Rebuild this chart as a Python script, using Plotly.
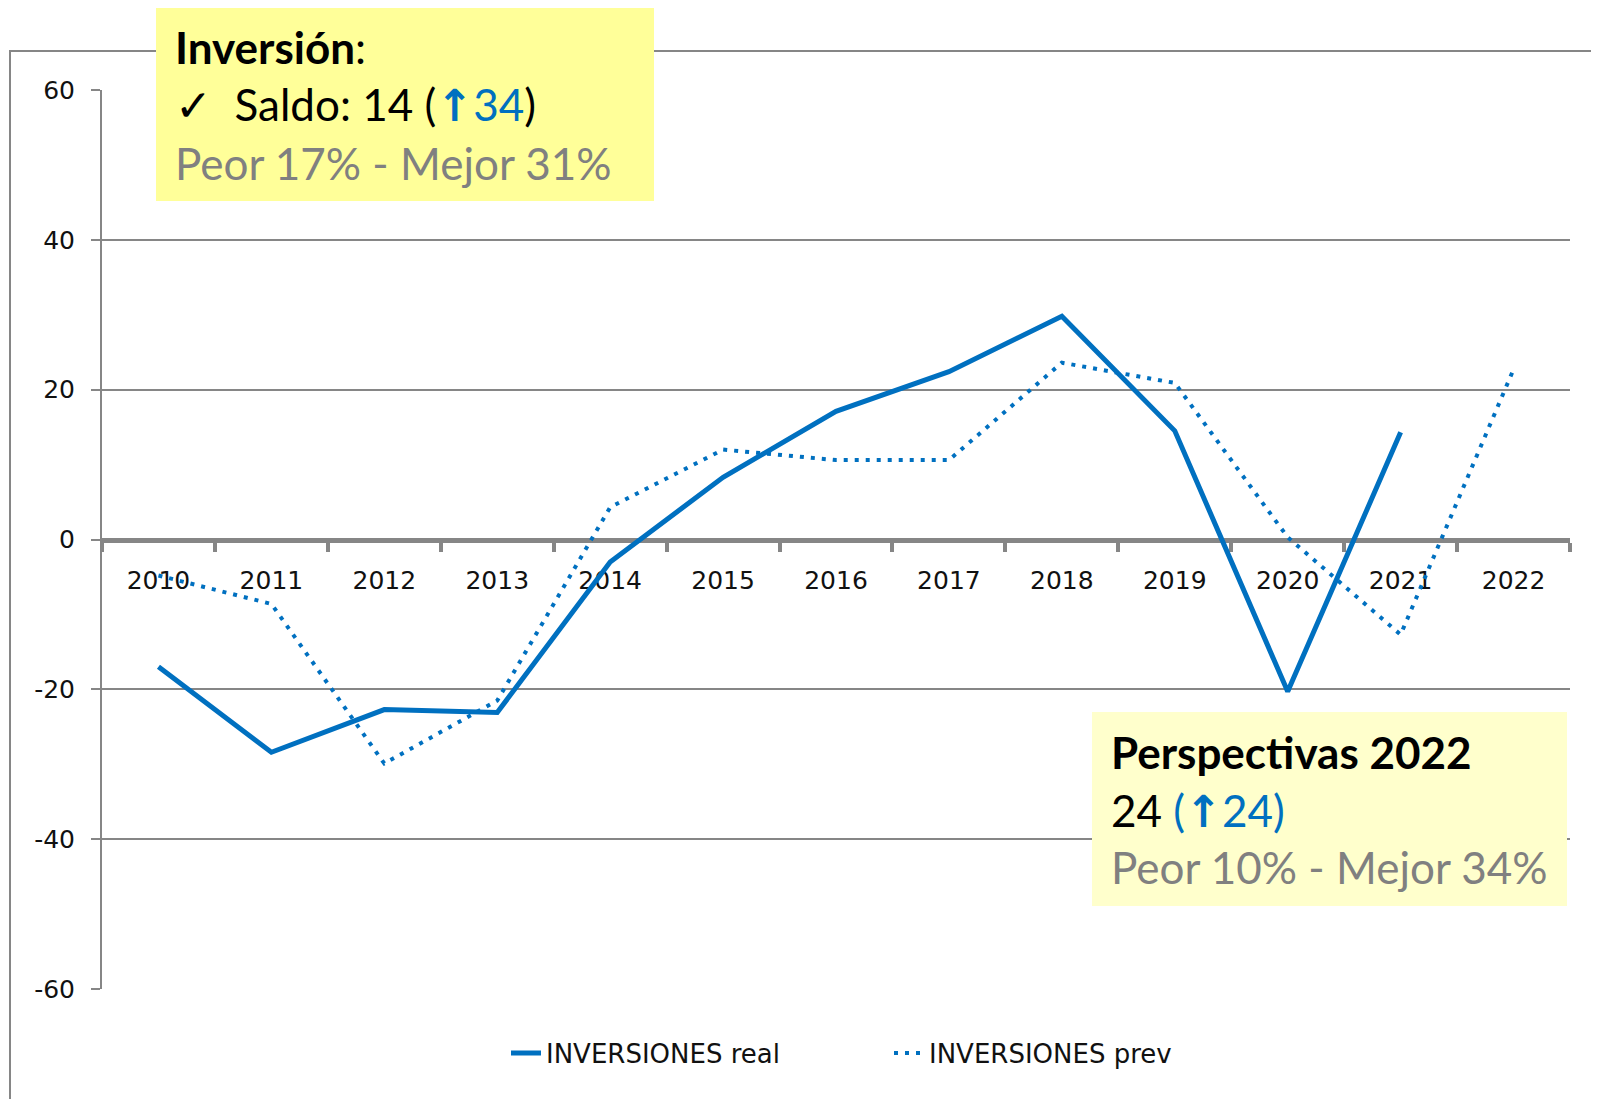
import plotly.graph_objects as go

years = ["2010", "2011", "2012", "2013", "2014", "2015", "2016",
         "2017", "2018", "2019", "2020", "2021", "2022"]
real_values = [-17, -28.4, -22.7, -23.1, -3.0, 8.3, 17.1, 22.4, 29.8, 14.5, -20.3, 14.3, None]
prev_values = [-4.8, -8.6, -29.9, -21.5, 4.3, 12.0, 10.6, 10.6, 23.6, 20.9, 0.3, -12.7, 22.7]
y_ticks = [-60, -40, -20, 0, 20, 40, 60]
y_tick_labels = ["-60", "-40", "-20", "0", "20", "40", "60"]

BLUE = "#0070C0"
GRAY = "#868686"
OFF = 8  # page body margin
W, H = 1599 - OFF, 1099 - OFF
PL, PR, PT, PB = 102, 1570, 90, 989  # plot area in page pixels
ML, MT = PL - OFF, PT - OFF
MR, MB = W - (PR - OFF), H - (PB - OFF)
PW, PH = PR - PL, PB - PT


def px(x):
    return (x - PL) / PW


def py(y):
    return (PB - y) / PH


fig = go.Figure()
fig.add_trace(go.Scatter(x=years, y=real_values, mode="lines", name="INVERSIONES real",
                         line=dict(color=BLUE, width=5)))
fig.add_trace(go.Scatter(x=years, y=prev_values, mode="lines", name="INVERSIONES prev",
                         line=dict(color=BLUE, width=4, dash="4px,7px")))

tickfont = dict(family="DejaVu Sans", size=25, color="#111111")

fig.update_layout(
    width=W, height=H,
    margin=dict(l=ML, r=MR, t=MT, b=MB),
    paper_bgcolor="white", plot_bgcolor="white",
    showlegend=True,
    legend=dict(orientation="h", x=px(506), xanchor="left", y=py(1053), yanchor="middle",
                font=dict(family="DejaVu Sans", size=26, color="#111111"),
                entrywidth=338, entrywidthmode="pixels", traceorder="normal"),
    xaxis=dict(type="category", anchor="free", position=0.5, range=[-0.5, 12.5],
               showline=True, linecolor=GRAY, linewidth=5,
               ticks="outside", tickson="boundaries", ticklen=9, tickwidth=4, tickcolor=GRAY,
               showgrid=False, tickfont=tickfont, ticklabelstandoff=16,
               layer="below traces"),
    yaxis=dict(range=[-60, 60], tickvals=y_ticks, ticktext=y_tick_labels,
               showline=True, linecolor=GRAY, linewidth=2,
               ticks="outside", ticklen=9, tickwidth=2, tickcolor=GRAY,
               showgrid=True, gridcolor=GRAY, gridwidth=2, zeroline=False,
               tickfont=tickfont, ticklabelstandoff=11, domain=[0, 1]),
)

shapes = [
    dict(type="rect", xref="paper", yref="paper", x0=px(10), x1=px(1640), y0=py(1140), y1=py(51),
         line=dict(color=GRAY, width=2), fillcolor="rgba(0,0,0,0)", layer="below"),
    dict(type="rect", xref="paper", yref="paper", x0=px(156), x1=px(654), y0=py(201), y1=py(8),
         line=dict(width=0), fillcolor="#FFFF99", layer="above"),
    dict(type="rect", xref="paper", yref="paper", x0=px(1092), x1=px(1567), y0=py(906), y1=py(712),
         line=dict(width=0), fillcolor="#FFFFCC", layer="above"),
]
fig.update_layout(shapes=shapes)

FONT = "Lato"
FS = 44
ARROW = "<span style='font-family:DejaVu Sans;font-weight:bold'>↑</span>"
ann = [
    (173, 47, "<b>Inversión</b>:"),
    (173, 105, "✓  Saldo: 14 (<span style='color:%s'>%s34</span>)" % (BLUE, ARROW)),
    (173, 163, "<span style='color:#808080'>Peor 17% - Mejor 31%</span>"),
    (1109, 752, "<b>Perspectivas 2022</b>"),
    (1109, 810, "24 <span style='color:%s'>(%s24)</span>" % (BLUE, ARROW)),
    (1109, 867, "<span style='color:#808080'>Peor 10% - Mejor 34%</span>"),
]
for x, y, t in ann:
    fig.add_annotation(x=px(x), y=py(y), xref="paper", yref="paper", text=t, showarrow=False,
                       xanchor="left", yanchor="middle", align="left",
                       font=dict(family=FONT, size=FS, color="black"))

fig.write_html("out.html")
